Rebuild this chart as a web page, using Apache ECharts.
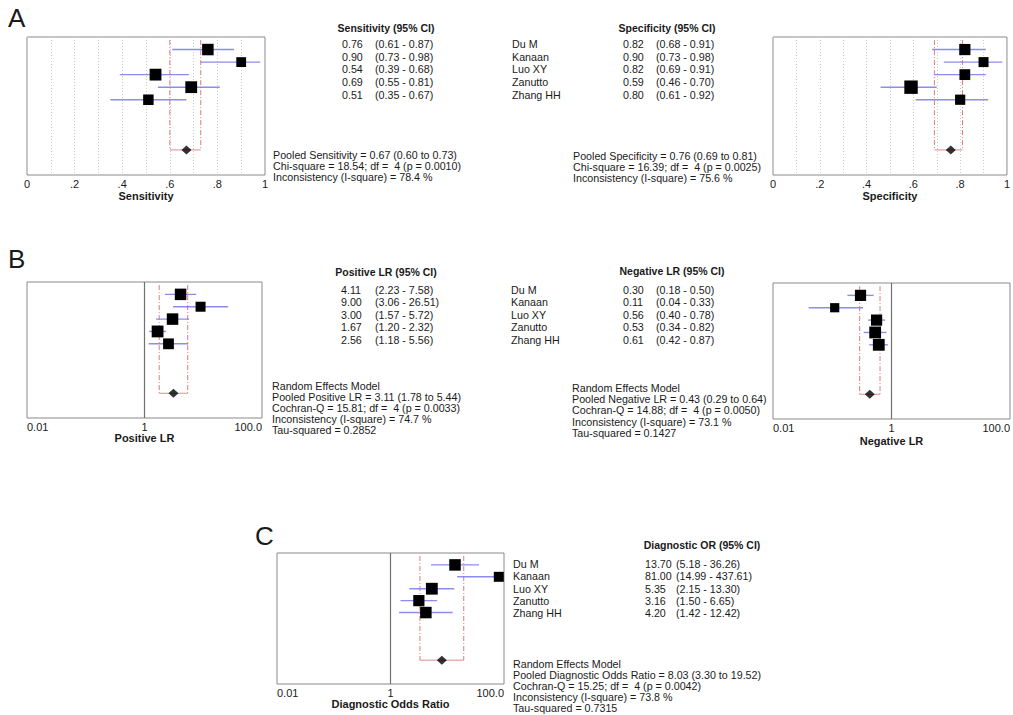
<!DOCTYPE html>
<html><head><meta charset="utf-8">
<script src="https://cdn.jsdelivr.net/npm/echarts@6/dist/echarts.min.js"></script>
<style>html,body{margin:0;padding:0;background:#fff}#c{width:1013px;height:715px}</style>
</head><body><div id="c"></div>
<script>
// ---------------- data ----------------
const studies = ['Du M', 'Kanaan', 'Luo XY', 'Zanutto', 'Zhang HH'];

const sensEst = [0.76, 0.90, 0.54, 0.69, 0.51];
const sensLo  = [0.61, 0.73, 0.39, 0.55, 0.35];
const sensHi  = [0.87, 0.98, 0.68, 0.81, 0.67];
const sensWeight = [11.5, 9.8, 11.8, 11.8, 10.5];
const sensPooled = [0.67, 0.60, 0.73];
const sensStats = ['Pooled Sensitivity = 0.67 (0.60 to 0.73)', 'Chi-square = 18.54; df = \u00a04 (p = 0.0010)', 'Inconsistency (I-square) = 78.4 %'];

const specEst = [0.82, 0.90, 0.82, 0.59, 0.80];
const specLo  = [0.68, 0.73, 0.69, 0.46, 0.61];
const specHi  = [0.91, 0.98, 0.91, 0.70, 0.92];
const specWeight = [11.2, 10, 10.8, 13.4, 10.2];
const specPooled = [0.76, 0.69, 0.81];
const specStats = ['Pooled Specificity = 0.76 (0.69 to 0.81)', 'Chi-square = 16.39; df = \u00a04 (p = 0.0025)', 'Inconsistency (I-square) = 75.6 %'];

const plrEst = [4.11, 9.00, 3.00, 1.67, 2.56];
const plrLo  = [2.23, 3.06, 1.57, 1.20, 1.18];
const plrHi  = [7.58, 26.51, 5.72, 2.32, 5.56];
const plrWeight = [11.5, 10, 11.5, 11.8, 10.8];
const plrPooled = [3.11, 1.78, 5.44];
const plrStats = ['Random Effects Model', 'Pooled Positive LR = 3.11 (1.78 to 5.44)', 'Cochran-Q = 15.81; df = \u00a04 (p = 0.0033)', 'Inconsistency (I-square) = 74.7 %', 'Tau-squared = 0.2852'];

const nlrEst = [0.30, 0.11, 0.56, 0.53, 0.61];
const nlrLo  = [0.18, 0.04, 0.40, 0.34, 0.42];
const nlrHi  = [0.50, 0.33, 0.78, 0.82, 0.87];
const nlrWeight = [11.2, 9.2, 11.2, 11.8, 11.8];
const nlrPooled = [0.43, 0.29, 0.64];
const nlrStats = ['Random Effects Model', 'Pooled Negative LR = 0.43 (0.29 to 0.64)', 'Cochran-Q = 14.88; df = \u00a04 (p = 0.0050)', 'Inconsistency (I-square) = 73.1 %', 'Tau-squared = 0.1427'];

const dorEst = [13.70, 81.00, 5.35, 3.16, 4.20];
const dorLo  = [5.18, 14.99, 2.15, 1.50, 1.42];
const dorHi  = [36.26, 437.61, 13.30, 6.65, 12.42];
const dorWeight = [11.5, 10, 11.8, 11.2, 11.5];
const dorPooled = [8.03, 3.30, 19.52];
const dorStats = ['Random Effects Model', 'Pooled Diagnostic Odds Ratio = 8.03 (3.30 to 19.52)', 'Cochran-Q = 15.25; df = \u00a04 (p = 0.0042)', 'Inconsistency (I-square) = 73.8 %', 'Tau-squared = 0.7315'];

const linTickLabels = ['0', '.2', '.4', '.6', '.8', '1'];
const logTickLabels = ['0.01', '1', '100.0'];
// --------------------------------------

const FONT = '"Liberation Sans", Arial, Helvetica, sans-serif';
const TXT = '#1a1a1a';
const FS = 10.7;
const POOLED_ROW = 9;

const panels = [
  {grid: {left: 27, top: 37, width: 238, height: 138}, log: false, est: sensEst, lo: sensLo, hi: sensHi, w: sensWeight, pooled: sensPooled, name: 'Sensitivity', gap: 15},
  {grid: {left: 773, top: 37, width: 238, height: 138}, log: false, est: specEst, lo: specLo, hi: specHi, w: specWeight, pooled: specPooled, name: 'Specificity', gap: 15},
  {grid: {left: 27, top: 282, width: 235, height: 136}, log: true, est: plrEst, lo: plrLo, hi: plrHi, w: plrWeight, pooled: plrPooled, name: 'Positive LR', gap: 14},
  {grid: {left: 773, top: 283, width: 238, height: 136}, log: true, est: nlrEst, lo: nlrLo, hi: nlrHi, w: nlrWeight, pooled: nlrPooled, name: 'Negative LR', gap: 16},
  {grid: {left: 277, top: 553, width: 227, height: 131}, log: true, est: dorEst, lo: dorLo, hi: dorHi, w: dorWeight, pooled: dorPooled, name: 'Diagnostic Odds Ratio', gap: 14}
];

function linLabel(v) {
  const k = Math.round(v * 10);
  if (k % 2) return '';
  return linTickLabels[k / 2] || '';
}
function logLabel(v) {
  const e = Math.round(Math.log10(v));
  if (Math.abs(Math.log10(v) - e) > 1e-6) return '';
  if (e === -2) return logTickLabels[0];
  if (e === 0) return logTickLabels[1];
  if (e === 2) return logTickLabels[2];
  return '';
}

const grids = [], xAxes = [], yAxes = [], series = [];

panels.forEach((p, i) => {
  grids.push(Object.assign({show: true, borderColor: '#8a8a8a', borderWidth: 1, backgroundColor: 'rgba(0,0,0,0)'}, p.grid));
  const xa = {
    gridIndex: i,
    name: p.name, nameLocation: 'middle', nameGap: p.gap,
    nameTextStyle: {fontFamily: FONT, fontSize: 11, fontWeight: 'bold', color: TXT},
    axisLine: {show: false}, axisTick: {show: false},
    axisLabel: {fontFamily: FONT, fontSize: 11, color: TXT, margin: 3},
  };
  if (p.log) {
    Object.assign(xa, {type: 'log', logBase: 10, min: 0.01, max: 100, splitLine: {show: false}});
    xa.axisLabel.formatter = logLabel;
    xa.axisLabel.alignMinLabel = 'left';
    xa.axisLabel.alignMaxLabel = 'right';
  } else {
    Object.assign(xa, {type: 'value', min: 0, max: 1, interval: 0.1,
      splitLine: {show: true, lineStyle: {color: '#cccccc', type: [1, 2], width: 1}}});
    xa.axisLabel.formatter = linLabel;
  }
  xAxes.push(xa);
  yAxes.push({gridIndex: i, type: 'value', min: 0, max: 11, inverse: true, show: false});

  // confidence intervals
  series.push({
    type: 'custom', xAxisIndex: i, yAxisIndex: i, z: 2, silent: true,
    data: p.lo.map((l, k) => [l, p.hi[k], k + 1]),
    renderItem: (params, api) => {
      const cs = params.coordSys;
      const a = api.coord([api.value(0), api.value(2)]);
      const b = api.coord([api.value(1), api.value(2)]);
      const x1 = Math.max(cs.x, Math.min(cs.x + cs.width, a[0]));
      const x2 = Math.max(cs.x, Math.min(cs.x + cs.width, b[0]));
      return {type: 'line', shape: {x1: x1, y1: a[1], x2: x2, y2: b[1]},
        style: {stroke: 'rgba(120,120,235,0.85)', lineWidth: 1.4}};
    }
  });

  // study squares
  series.push({
    type: 'scatter', xAxisIndex: i, yAxisIndex: i, z: 3,
    symbol: 'rect',
    symbolSize: (val, prm) => p.w[prm.dataIndex],
    itemStyle: {color: '#000', opacity: 1},
    data: p.est.map((v, k) => [v, k + 1]),
    silent: true,
    markLine: p.log ? {
      silent: true, symbol: 'none', animation: false,
      label: {show: false},
      lineStyle: {color: '#707070', type: 'solid', width: 1.2},
      data: [{xAxis: 1}]
    } : undefined
  });

  // pooled CI bracket
  series.push({
    type: 'custom', xAxisIndex: i, yAxisIndex: i, z: 1, silent: true,
    data: [[p.pooled[1], p.pooled[2], POOLED_ROW]],
    renderItem: (params, api) => {
      const t1 = api.coord([api.value(0), 0.25]);
      const b1 = api.coord([api.value(0), api.value(2)]);
      const t2 = api.coord([api.value(1), 0.25]);
      const b2 = api.coord([api.value(1), api.value(2)]);
      const dash = {stroke: '#e07a7a', lineWidth: 1, lineDash: [5, 2, 1, 2]};
      return {type: 'group', children: [
        {type: 'line', shape: {x1: t1[0], y1: t1[1], x2: b1[0], y2: b1[1]}, style: dash},
        {type: 'line', shape: {x1: t2[0], y1: t2[1], x2: b2[0], y2: b2[1]}, style: dash},
        {type: 'line', shape: {x1: b1[0], y1: b1[1], x2: b2[0], y2: b2[1]}, style: {stroke: '#e58a8a', lineWidth: 1}}
      ]};
    }
  });

  // pooled diamond
  series.push({
    type: 'scatter', xAxisIndex: i, yAxisIndex: i, z: 4, silent: true,
    symbol: 'diamond', symbolSize: [10, 9],
    itemStyle: {color: '#000'},
    data: [[p.pooled[0], POOLED_ROW]]
  });
});

// ---------- text ----------
const graphics = [];
function txt(x, y, s, o) {
  o = o || {};
  const align = o.align || 'left';
  graphics.push({
    type: 'text', x: x, y: y, silent: true,
    style: {text: s, font: (o.bold ? 'bold ' : '') + (o.size || FS) + 'px ' + FONT, fill: TXT,
      textAlign: align, align: align, textVerticalAlign: 'middle', verticalAlign: 'middle'}
  });
}
const f2 = v => v.toFixed(2);
const ci = (l, h) => '(' + f2(l) + ' - ' + f2(h) + ')';

// panel letters
txt(8, 18, 'A', {size: 26});
txt(8, 259, 'B', {size: 26});
txt(255, 536, 'C', {size: 26});

// Panel A
txt(386, 28, 'Sensitivity (95% CI)', {bold: true, size: 10.5, align: 'center'});
const rowsA = [44, 57, 69, 82, 95];
rowsA.forEach((y, k) => {
  txt(342, y, f2(sensEst[k]));
  txt(375, y, ci(sensLo[k], sensHi[k]));
  txt(512, y, studies[k]);
  txt(623, y, f2(specEst[k]));
  txt(656, y, ci(specLo[k], specHi[k]));
});
txt(667, 28, 'Specificity (95% CI)', {bold: true, size: 10.5, align: 'center'});
sensStats.forEach((s, k) => txt(273, 155 + k * 11, s));
specStats.forEach((s, k) => txt(573, 156 + k * 11, s));

// Panel B
txt(386, 272, 'Positive LR (95% CI)', {bold: true, size: 10.5, align: 'center'});
txt(672, 271, 'Negative LR (95% CI)', {bold: true, size: 10.5, align: 'center'});
const rowsB = [290, 302, 315, 327, 340];
rowsB.forEach((y, k) => {
  txt(341, y, f2(plrEst[k]));
  txt(375, y, ci(plrLo[k], plrHi[k]));
  txt(511, y, studies[k]);
  txt(623, y, f2(nlrEst[k]));
  txt(656, y, ci(nlrLo[k], nlrHi[k]));
});
plrStats.forEach((s, k) => txt(272, 386 + k * 11, s));
nlrStats.forEach((s, k) => txt(572, 388 + k * 11.2, s));

// Panel C
txt(702, 545, 'Diagnostic OR (95% CI)', {bold: true, size: 10.5, align: 'center'});
const rowsC = [564, 576, 589, 601, 613];
rowsC.forEach((y, k) => {
  txt(513, y, studies[k]);
  txt(645, y, f2(dorEst[k]));
  txt(676, y, ci(dorLo[k], dorHi[k]));
});
dorStats.forEach((s, k) => txt(513, 664 + k * 11, s));

const chart = echarts.init(document.getElementById('c'), null, {renderer: 'svg', width: 1013, height: 715});
chart.setOption({
  animation: false,
  backgroundColor: '#fff',
  grid: grids, xAxis: xAxes, yAxis: yAxes, series: series,
  graphic: {elements: graphics}
});
</script></body></html>
